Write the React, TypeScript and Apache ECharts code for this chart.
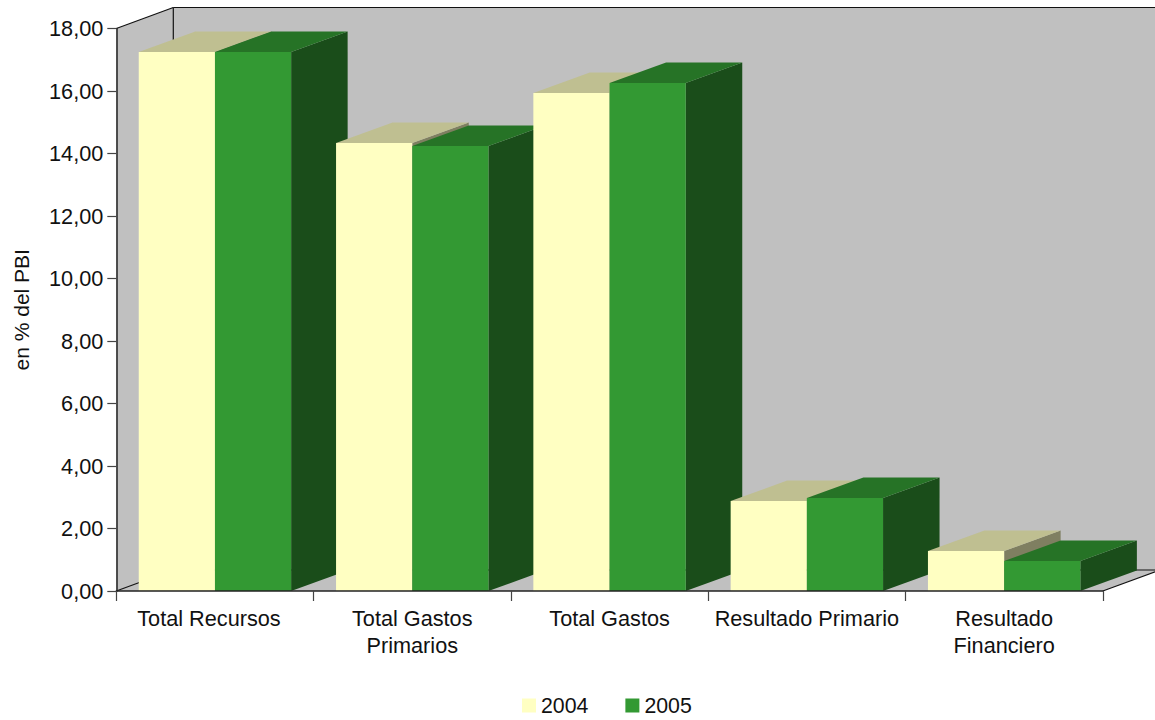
import React, { useEffect, useRef } from "react";
import * as echarts from "echarts";

const categories = ["Total Recursos", "Total Gastos\nPrimarios", "Total Gastos", "Resultado Primario", "Resultado\nFinanciero"];
const values2004 = [17.25, 14.34, 15.94, 2.88, 1.28];
const values2005 = [17.25, 14.24, 16.26, 2.98, 0.96];
const yMin = 0;
const yMax = 18;
const yStep = 2;

const FONT = "'Liberation Sans', Arial, sans-serif";
const TEXT = "#111111";
const DEPTH_X = 56.5;
const DEPTH_Y = 20.5;
const BAR_RATIO = 0.3862;

function barSeries(name: string, values: number[], order: number, front: string, top: string, side: string) {
  return {
    type: "custom",
    name,
    z: 3,
    clip: false,
    silent: true,
    itemStyle: { color: front },
    encode: { x: 0, y: 1 },
    data: values.map((v, i) => [i, v]),
    renderItem: (_params: any, api: any) => {
      const idx = api.value(0);
      const end = api.coord([idx, api.value(1)]);
      const base = api.coord([idx, 0]);
      const w = api.size([1, 0])[0] * BAR_RATIO;
      const x0 = end[0] - w + order * w;
      const x1 = x0 + w;
      const yt = end[1];
      const yb = base[1];
      const z2 = idx * 10 + order;
      return {
        type: "group",
        children: [
          {
            type: "polygon",
            z2,
            shape: { points: [[x1, yt], [x1 + DEPTH_X, yt - DEPTH_Y], [x1 + DEPTH_X, yb - DEPTH_Y], [x1, yb]] },
            style: { fill: side },
          },
          {
            type: "polygon",
            z2,
            shape: { points: [[x0, yt], [x0 + DEPTH_X, yt - DEPTH_Y], [x1 + DEPTH_X, yt - DEPTH_Y], [x1, yt]] },
            style: { fill: top },
          },
          {
            type: "rect",
            z2,
            shape: { x: x0, y: yt, width: x1 - x0, height: yb - yt },
            style: { fill: front },
          },
        ],
      };
    },
  };
}

const wallSeries = {
  type: "custom",
  name: "paredes",
  z: 1,
  clip: false,
  silent: true,
  encode: { x: 0, y: 1 },
  data: [[0, 0]],
  renderItem: (params: any) => {
    const { x, y, width, height } = params.coordSys;
    const dx = 57;
    const dy = 21;
    const l = x;
    const r = x + width;
    const t = y;
    const b = y + height;
    const wall = "#C0C0C0";
    const edge = { stroke: "#111111", lineWidth: 1.2 };
    return {
      type: "group",
      children: [
        { type: "polygon", shape: { points: [[l + dx, t - dy], [r + dx, t - dy], [r + dx, b - dy], [l + dx, b - dy]] }, style: { fill: wall } },
        { type: "polygon", shape: { points: [[l, t], [l + dx, t - dy], [l + dx, b - dy], [l, b]] }, style: { fill: wall } },
        { type: "polygon", shape: { points: [[l, b], [l + dx, b - dy], [r + dx, b - dy], [r, b]] }, style: { fill: wall } },
        { type: "line", shape: { x1: l, y1: t, x2: l + dx, y2: t - dy }, style: edge },
        { type: "line", shape: { x1: l + dx, y1: t - dy, x2: r + dx, y2: t - dy }, style: edge },
        { type: "line", shape: { x1: l + dx, y1: t - dy, x2: l + dx, y2: b - dy }, style: edge },
        { type: "line", shape: { x1: l, y1: b, x2: l + dx, y2: b - dy }, style: edge },
        { type: "line", shape: { x1: l + dx, y1: b - dy, x2: r + dx, y2: b - dy }, style: edge },
        { type: "line", shape: { x1: r, y1: b, x2: r + dx, y2: b - dy }, style: edge },
      ],
    };
  },
};

export default function App() {
  const ref = useRef<HTMLDivElement>(null);
  useEffect(() => {
    const chart = echarts.init(ref.current!, undefined, { renderer: "svg" });
    chart.setOption({
      animation: false,
      backgroundColor: "#FFFFFF",
      textStyle: { fontFamily: FONT },
      grid: { left: 116.3, top: 28.5, width: 986.5, height: 562.5, outerBoundsMode: "none", containLabel: false },
      legend: {
        data: ["2004", "2005"],
        left: 522,
        top: 695,
        padding: 0,
        icon: "rect",
        itemWidth: 14,
        itemHeight: 14,
        itemGap: 37,
        selectedMode: false,
        textStyle: { fontFamily: FONT, fontSize: 21.3, color: TEXT },
      },
      xAxis: {
        type: "category",
        data: categories,
        boundaryGap: true,
        z: 6,
        axisLine: { show: true, onZero: false, lineStyle: { color: "#222222", width: 1.5 } },
        axisTick: { show: true, length: 10, alignWithLabel: false, lineStyle: { color: "#444444", width: 1.2 } },
        axisLabel: {
          interval: 0,
          margin: 14,
          fontFamily: FONT,
          fontSize: 21.7,
          color: TEXT,
          lineHeight: 27,
          formatter: (v: string, i: number) => (i === 0 ? `{first|${v}}` : v),
          rich: {
            first: { fontFamily: FONT, fontSize: 21.7, color: TEXT, lineHeight: 27, padding: [0, 12, 0, 0] },
          },
        },
        splitLine: { show: false },
      },
      yAxis: {
        type: "value",
        min: yMin,
        max: yMax,
        interval: yStep,
        z: 6,
        name: "en % del PBI",
        nameLocation: "middle",
        nameGap: 84,
        nameTextStyle: { fontFamily: FONT, fontSize: 21, color: TEXT },
        axisLine: { show: true, lineStyle: { color: "#222222", width: 1.5 } },
        axisTick: { show: true, length: 9, lineStyle: { color: "#444444", width: 1.2 } },
        axisLabel: {
          margin: 13,
          fontFamily: FONT,
          fontSize: 21.7,
          color: TEXT,
          formatter: (v: number) => v.toFixed(2).replace(".", ","),
        },
        splitLine: { show: false },
      },
      series: [
        wallSeries,
        barSeries("2004", values2004, 0, "#FFFFC2", "#BFBF91", "#7F7F61"),
        barSeries("2005", values2005, 1, "#339933", "#267326", "#1A4D1A"),
      ],
    });
    return () => chart.dispose();
  }, []);
  return <div ref={ref} style={{ position: "absolute", left: 0, top: 0, width: 1155, height: 720 }} />;
}
